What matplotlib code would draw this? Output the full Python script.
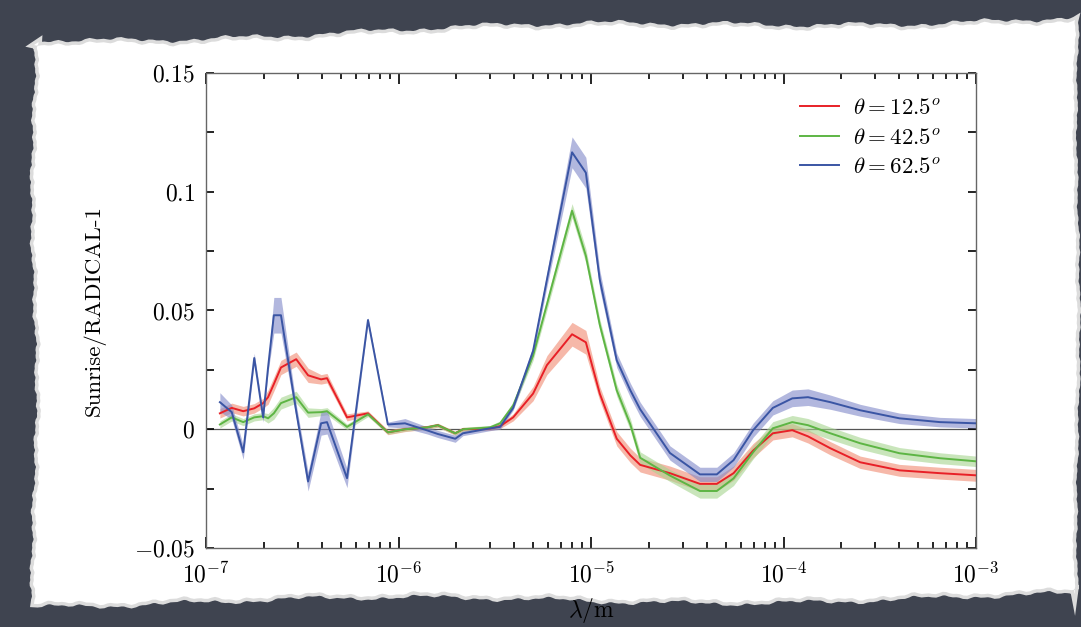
import numpy as np
import matplotlib.pyplot as plt
from matplotlib.patches import Polygon
from matplotlib.ticker import MultipleLocator, LogLocator, NullFormatter, FixedLocator


plt.rcParams.update({
    'font.family'      : 'serif',
    'font.serif'       : ['cmr10', 'DejaVu Serif'],
    'mathtext.fontset' : 'cm',
    'axes.unicode_minus': False,
    'font.size'        : 16,
})

COR_RED   = '#e82027'
COR_GREEN = '#5db544'
COR_BLUE  = '#3a55a4'
BAND_RED   = '#f08a70'
BAND_GREEN = '#a6d58f'
BAND_BLUE  = '#8088c8'


# dados

wavelength = [1.18e-7, 1.36e-7, 1.56e-7, 1.78e-7, 1.98e-7, 2.10e-7, 2.25e-7, 2.45e-7,
              2.94e-7, 3.39e-7, 3.96e-7, 4.25e-7, 5.40e-7, 6.94e-7, 8.8e-7, 1.08e-6,
              1.41e-6, 1.6e-6, 1.97e-6, 2.16e-6, 2.99e-6, 3.37e-6, 3.94e-6, 5.0e-6,
              5.9e-6, 7.97e-6, 9.4e-6, 1.11e-5, 1.36e-5, 1.6e-5, 1.8e-5, 2.57e-5,
              3.68e-5, 4.5e-5, 5.5e-5, 6.95e-5, 8.8e-5, 1.11e-4, 1.34e-4, 1.75e-4,
              2.5e-4, 4.0e-4, 6.5e-4, 1.0e-3]

ratio_12 = [0.0067, 0.0090, 0.0076, 0.0088, 0.0110, 0.0135, 0.0190, 0.0260,
            0.0295, 0.0227, 0.0210, 0.0215, 0.0050, 0.0067, -0.0013, 0.0000,
            0.0008, 0.0017, -0.0017, 0.0000, 0.0003, 0.0013, 0.0050, 0.0150,
            0.0270, 0.0400, 0.0366, 0.0150, -0.0040, -0.0110, -0.0150, -0.0185,
            -0.0230, -0.0230, -0.0185, -0.0090, -0.0017, -0.0004, -0.0030, -0.0080,
            -0.0139, -0.0173, -0.0185, -0.0194]

ratio_42 = [0.0020, 0.0050, 0.0030, 0.0050, 0.0055, 0.0046, 0.0067, 0.0110,
            0.0135, 0.0070, 0.0072, 0.0076, 0.0010, 0.0063, -0.0013, 0.0000,
            0.0008, 0.0017, -0.0017, 0.0000, 0.0008, 0.0025, 0.0100, 0.0310,
            0.0526, 0.0920, 0.0730, 0.0440, 0.0164, 0.0020, -0.0120, -0.0195,
            -0.0260, -0.0260, -0.0207, -0.0097, 0.0004, 0.0030, 0.0017, -0.0017,
            -0.0059, -0.0101, -0.0122, -0.0135]

ratio_62 = [0.0114, 0.0072, -0.0097, 0.0300, 0.0050, 0.0260, 0.0480, 0.0480,
            0.0076, -0.0220, 0.0025, 0.0030, -0.0206, 0.0460, 0.0020, 0.0025,
            -0.0005, -0.0020, -0.0040, -0.0017, 0.0004, 0.0010, 0.0090, 0.0330,
            0.0630, 0.1166, 0.1080, 0.0630, 0.0290, 0.0164, 0.0084, -0.0100,
            -0.0190, -0.0190, -0.0130, -0.0004, 0.0090, 0.0130, 0.0135, 0.0114,
            0.0080, 0.0046, 0.0030, 0.0025]

err_12 = [0.002, 0.002, 0.002, 0.002, 0.002, 0.003, 0.003, 0.003,
          0.003, 0.003, 0.002, 0.002, 0.0015, 0.001, 0.001, 0.001,
          0.0008, 0.0008, 0.0008, 0.0008, 0.0008, 0.001, 0.0015, 0.003,
          0.004, 0.005, 0.005, 0.003, 0.003, 0.003, 0.003, 0.003,
          0.003, 0.003, 0.003, 0.003, 0.0028, 0.0028, 0.0028, 0.0028,
          0.0026, 0.0025, 0.0025, 0.0025]

err_42 = [0.0015, 0.0015, 0.0015, 0.0015, 0.0015, 0.002, 0.0025, 0.0025,
          0.0025, 0.002, 0.0015, 0.0015, 0.0012, 0.001, 0.0008, 0.0008,
          0.0008, 0.0008, 0.0008, 0.0008, 0.0008, 0.001, 0.0015, 0.002,
          0.0025, 0.003, 0.003, 0.0025, 0.0025, 0.0025, 0.0025, 0.0025,
          0.003, 0.003, 0.003, 0.0028, 0.0028, 0.0028, 0.0028, 0.0026,
          0.0025, 0.0024, 0.0023, 0.0022]

err_62 = [0.004, 0.003, 0.003, 0.002, 0.002, 0.002, 0.0075, 0.0075,
          0.003, 0.004, 0.005, 0.005, 0.004, 0.001, 0.001, 0.002,
          0.0015, 0.0015, 0.0015, 0.001, 0.001, 0.001, 0.001, 0.002,
          0.003, 0.0065, 0.0065, 0.004, 0.003, 0.003, 0.003, 0.003,
          0.003, 0.003, 0.003, 0.003, 0.003, 0.0035, 0.0035, 0.003,
          0.0025, 0.0022, 0.002, 0.002]

labels = [r'$\theta = 12.5^o$', r'$\theta = 42.5^o$', r'$\theta = 62.5^o$']


# figura e fundo (papel rasgado)

fig = plt.figure(figsize=(10.81, 6.27), dpi=100)
fig.patch.set_facecolor('#3f4450')

bg = fig.add_axes([0, 0, 1, 1], zorder=-1)
bg.set_xlim(0, 1081)
bg.set_ylim(627, 0)
bg.axis('off')

t = np.linspace(0, 1, 300)
wob = lambda s, k: (np.sin(s * 9 + k) * 4 + np.sin(s * 53 + 2 * k) * 1.8
                    + np.sin(s * 197 + k) * 1.0 + np.sin(s * 431 + 3 * k) * 0.7)
top_y  = 42 - 22 * t + wob(t, 0.3)
right_x = 1075 + wob(t, 3.1) * 0.4
bot_y  = 600 - 6 * t + wob(t, 1.7)
left_x = 37 + wob(t, 2.2) * 0.6
xs = np.concatenate([34 + t * 1041, right_x, 1075 - t * 1041, left_x[::-1]])
ys = np.concatenate([top_y, 20 + t * 574, bot_y[::-1], (42 + t * 558)[::-1]])
papel = np.column_stack([xs, ys])
bg.add_patch(Polygon(papel, closed=True, facecolor='none',
                     edgecolor='#dcdcdc', linewidth=5, zorder=1))
bg.add_patch(Polygon(papel, closed=True, facecolor='white',
                     edgecolor='none', zorder=2))


# grafico principal

ax = fig.add_axes([0.1906, 0.126, 0.7123, 0.7576])
ax.set_facecolor('white')

series = [(ratio_12, err_12, COR_RED, BAND_RED),
          (ratio_42, err_42, COR_GREEN, BAND_GREEN),
          (ratio_62, err_62, COR_BLUE, BAND_BLUE)]

ax.axhline(0, color='#555555', linewidth=0.9, zorder=1)

for (vals, err, cor, banda), lab in zip(series, labels):
    v = np.array(vals)
    e = np.array(err)
    ax.fill_between(wavelength, v - e, v + e, color=banda, alpha=0.6,
                    linewidth=0, zorder=2)
    ax.plot(wavelength, v, color=cor, linewidth=1.4, label=lab, zorder=3)

ax.set_xscale('log')
ax.set_xlim(1e-7, 1e-3)
ax.set_ylim(-0.05, 0.15)

ax.xaxis.set_major_locator(FixedLocator([1e-7, 1e-6, 1e-5, 1e-4, 1e-3]))
ax.set_xticklabels([r'$10^{-7}$', r'$10^{-6}$', r'$10^{-5}$', r'$10^{-4}$', r'$10^{-3}$'])
ax.xaxis.set_minor_locator(LogLocator(base=10, subs=np.arange(2, 10)))
ax.xaxis.set_minor_formatter(NullFormatter())

ax.set_yticks([-0.05, 0, 0.05, 0.1, 0.15])
ax.set_yticklabels([r'$-0.05$', r'$0$', r'$0.05$', r'$0.1$', r'$0.15$'])
ax.yaxis.set_minor_locator(MultipleLocator(0.025))

ax.tick_params(which='both', direction='in', top=True, right=True,
               labelsize=17, width=1.2, color='black')
ax.tick_params(axis='x', which='major', length=8, pad=10)
ax.tick_params(axis='x', which='minor', length=4)
ax.tick_params(axis='y', which='both', length=6, pad=8)

for sp in ax.spines.values():
    sp.set_color('#666666')
    sp.set_linewidth(1.0)

ax.set_xlabel(r'$\lambda/\mathrm{m}$', fontsize=17, labelpad=6)
ax.set_ylabel('Sunrise/RADICAL-1', fontsize=16.5, labelpad=20)

ax.legend(loc='upper right', bbox_to_anchor=(0.99, 1.005), frameon=False,
          fontsize=16.5, handlelength=1.7, handletextpad=0.6,
          labelspacing=0.42, borderaxespad=0.8)

fig.savefig('out.png', dpi=100, facecolor=fig.get_facecolor())
